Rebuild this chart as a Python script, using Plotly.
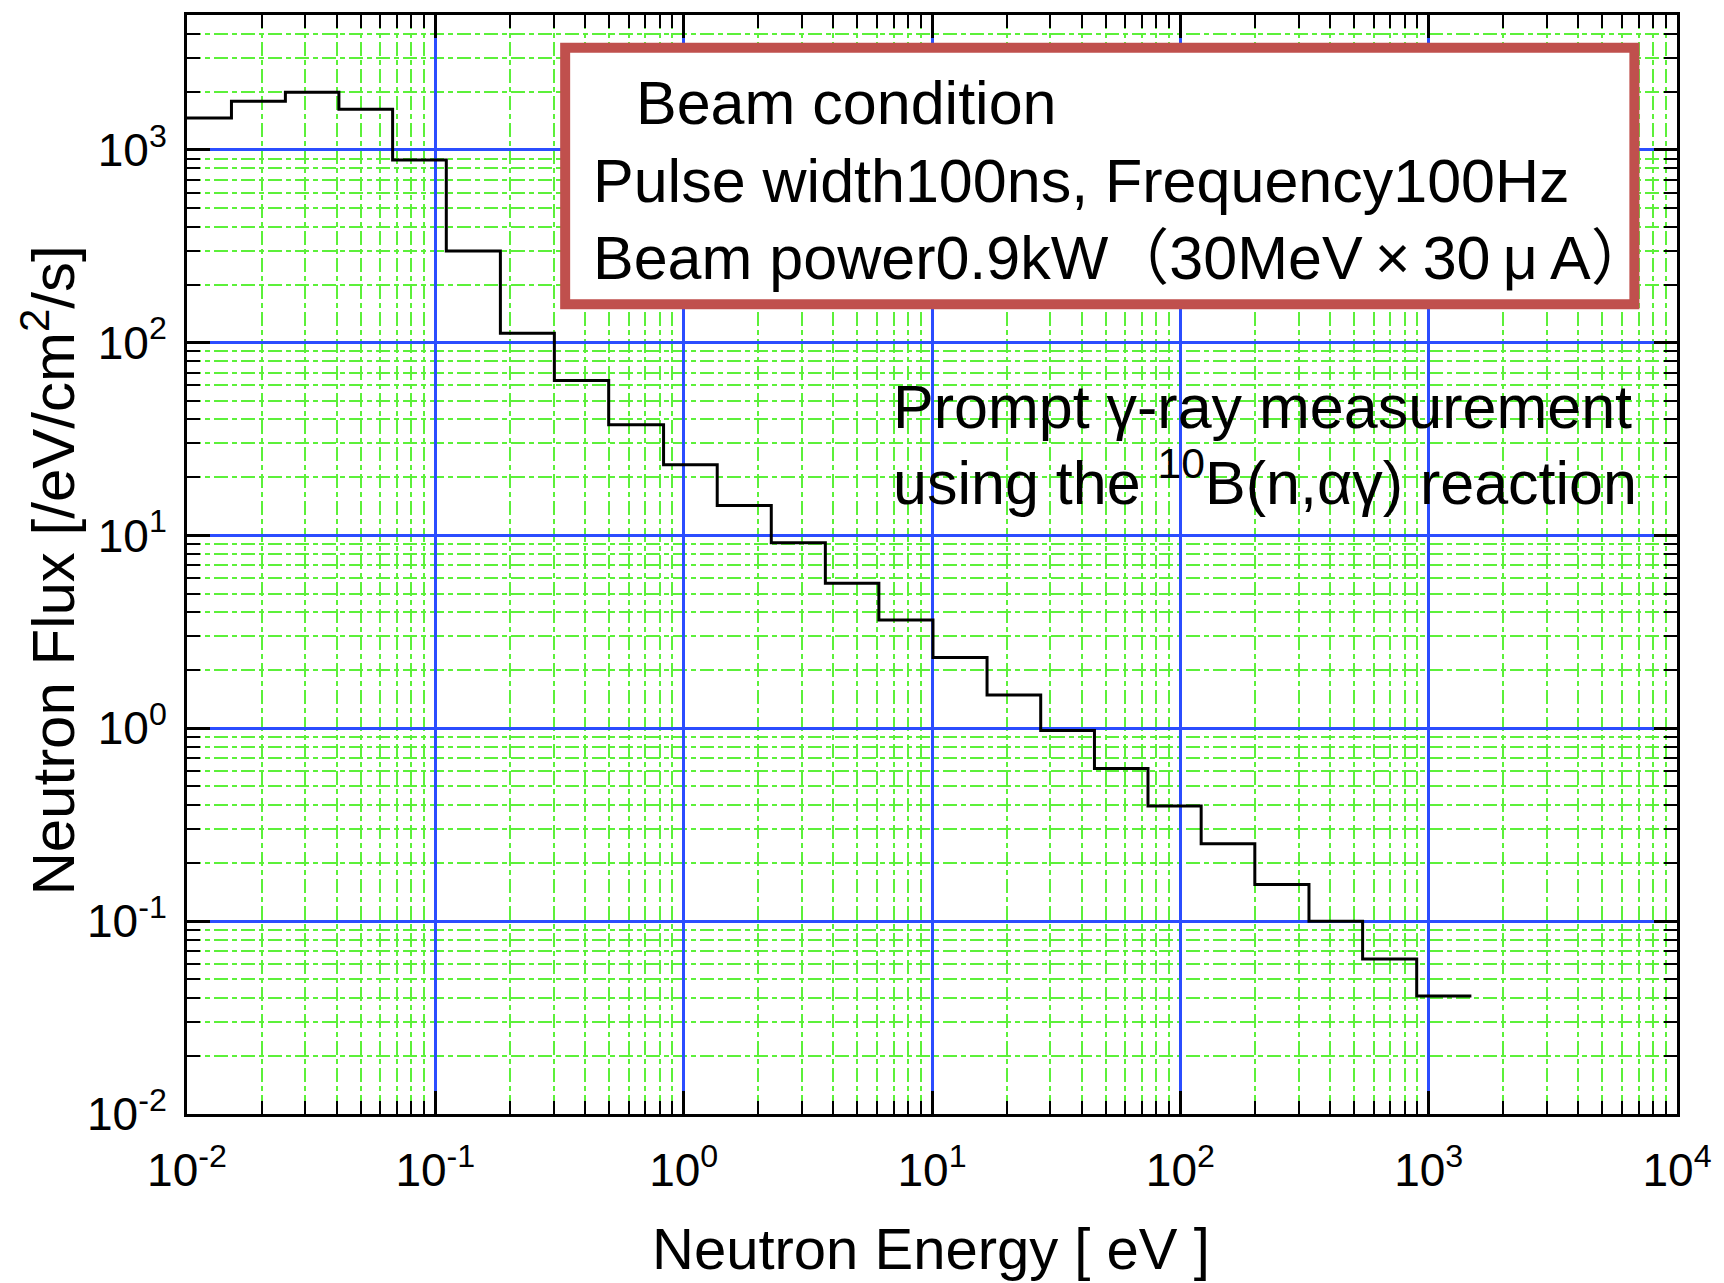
import plotly.graph_objects as go

# ---------------- data ----------------
bin_edges_ev = [0.01, 0.0151, 0.0249, 0.0409, 0.0673, 0.1107, 0.1828, 0.3015,
                0.499, 0.830, 1.365, 2.253, 3.72, 6.11, 10.09, 16.66, 27.4,
                45.1, 74.1, 121.3, 199.5, 329.6, 542, 895, 1486]
flux = [1460, 1787, 1987, 1625, 885, 299, 112, 63.7, 37.5, 23.3, 14.3, 9.17,
        5.65, 3.65, 2.33, 1.49, 0.973, 0.618, 0.395, 0.252, 0.155, 0.100,
        0.0636, 0.0409]

x_decades = [1e-2, 1e-1, 1e0, 1e1, 1e2, 1e3, 1e4]
x_tick_text = ["10<sup>-2</sup>", "10<sup>-1</sup>", "10<sup>0</sup>", "10<sup>1</sup>",
               "10<sup>2</sup>", "10<sup>3</sup>", "10<sup>4</sup>"]
y_decades = [1e-2, 1e-1, 1e0, 1e1, 1e2, 1e3]
y_tick_text = ["10<sup>-2</sup>", "10<sup>-1</sup>", "10<sup>0</sup>", "10<sup>1</sup>",
               "10<sup>2</sup>", "10<sup>3</sup>"]

x_title = "Neutron Energy [ eV ]"
y_title = "Neutron Flux [/eV/cm<sup>2</sup>/s]"
box_lines = ["Beam condition",
             "Pulse width100ns, Frequency100Hz",
             "Beam power0.9kW（30MeV\u2009×\u200930\u2009μ\u2009A）"]
note_lines = ["Prompt γ-ray measurement",
              "using the <sup>10</sup>B(n,αγ) reaction"]

# ---------------- styling ----------------
FONT = "Liberation Sans, Arial, Noto Sans CJK JP, sans-serif"
BLUE = "#2b4dff"
GREEN = "#5cf03a"
GREEN_DASH = "14px,4px,5px,4px"

x_minor = [m * d for d in x_decades[:-1] for m in range(2, 10)]
y_minor = [m * d for d in y_decades for m in range(2, 10) if m * d <= 5000]

fig = go.Figure()
fig.add_trace(go.Scatter(
    x=bin_edges_ev,
    y=flux + [flux[-1]],
    mode="lines",
    line=dict(color="black", width=3, shape="hv"),
    showlegend=False,
))

axis_common = dict(
    type="log",
    showline=True, linecolor="black", linewidth=3, mirror="ticks",
    ticks="inside", ticklen=23, tickwidth=2.5, tickcolor="black",
    showgrid=True, gridcolor=BLUE, gridwidth=2.5,
    tickmode="array",
    tickfont=dict(family=FONT, size=46, color="black"),
    zeroline=False,
)

fig.update_xaxes(
    **axis_common,
    range=[-2, 4],
    tickvals=x_decades, ticktext=x_tick_text,
    ticklabelstandoff=14,
    minor=dict(tickmode="array", tickvals=x_minor, ticks="inside", ticklen=13,
               tickwidth=2, tickcolor="black", showgrid=True,
               gridcolor=GREEN, gridwidth=2, griddash=GREEN_DASH),
)
fig.update_yaxes(
    **axis_common,
    range=[-2, 3.699],
    tickvals=y_decades, ticktext=y_tick_text,
    ticklabelstandoff=8,
    minor=dict(tickmode="array", tickvals=y_minor, ticks="inside", ticklen=13,
               tickwidth=2, tickcolor="black", showgrid=True,
               gridcolor=GREEN, gridwidth=2, griddash=GREEN_DASH),
)

# beam-condition box
fig.add_shape(type="rect", xref="paper", yref="paper",
              x0=0.2538, x1=0.9714, y0=0.7368, y1=0.9701,
              line=dict(color="#c0504d", width=10), fillcolor="white",
              layer="above")

txt_font = dict(family=FONT, size=61, color="black")
annotations = [
    dict(text=box_lines[0], x=0.2998, y=0.920),
    dict(text=box_lines[1], x=0.2712, y=0.8494),
    dict(text=box_lines[2], x=0.2712, y=0.7786),
    dict(text=note_lines[0], x=0.4724, y=0.6434),
    dict(text=note_lines[1], x=0.4724, y=0.579),
]
for a in annotations:
    fig.add_annotation(xref="paper", yref="paper", xanchor="left", yanchor="middle",
                       showarrow=False, font=txt_font, **a)

# axis titles
fig.add_annotation(text=x_title, xref="paper", yref="paper", x=0.499, y=-0.122,
                   xanchor="center", yanchor="middle", showarrow=False,
                   font=dict(family=FONT, size=58, color="black"))
fig.add_annotation(text=y_title, xref="paper", yref="paper", x=-0.0925, y=0.4946,
                   xanchor="center", yanchor="middle", showarrow=False, textangle=-90,
                   font=dict(family=FONT, size=60, color="black"))

fig.update_layout(
    width=1724, height=1283,
    margin=dict(l=187, r=36, t=12, b=169),
    plot_bgcolor="white", paper_bgcolor="white",
    showlegend=False,
)

fig.write_html("out.html")
